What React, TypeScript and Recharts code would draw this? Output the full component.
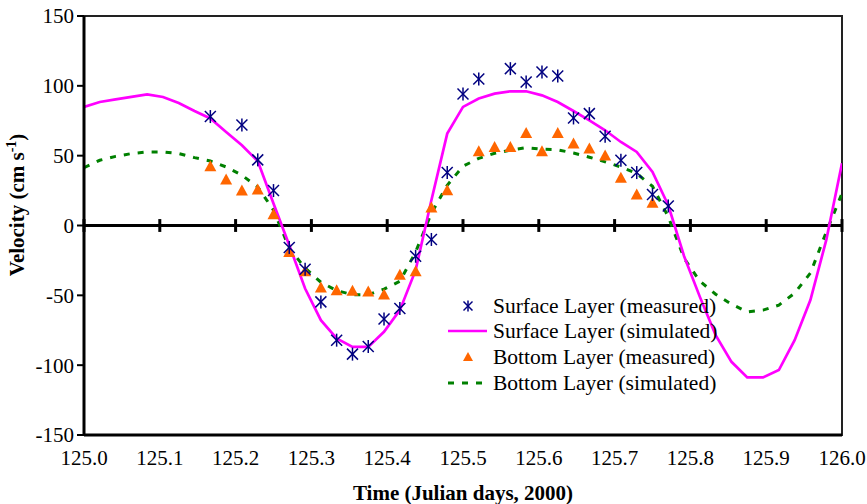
import React from 'react';
import {
  ComposedChart,
  Line,
  Scatter,
  XAxis,
  YAxis,
  ReferenceLine,
  ReferenceArea,
  Legend,
} from 'recharts';

const SERIF = 'Liberation Serif, Times New Roman, Times, serif';

// simulated series: half-hourly output, Julian day 125.0 to 126.0
const simTimes = [
  125.0, 125.0208, 125.0417, 125.0625, 125.0833, 125.1042, 125.125, 125.1458,
  125.1667, 125.1875, 125.2083, 125.2292, 125.25, 125.2708, 125.2917, 125.3125,
  125.3333, 125.3542, 125.375, 125.3958, 125.4167, 125.4375, 125.4583, 125.4792,
  125.5, 125.5208, 125.5417, 125.5625, 125.5833, 125.6042, 125.625, 125.6458,
  125.6667, 125.6875, 125.7083, 125.7292, 125.75, 125.7708, 125.7917, 125.8125,
  125.8333, 125.8542, 125.875, 125.8958, 125.9167, 125.9375, 125.9583, 125.9792,
  126.0,
];
const surfaceSimulated = [
  84.9, 88.4, 90.3, 92.1, 93.9, 92.0, 87.7, 82.0, 76.6, 67.0, 57.5, 46.1, 15.7,
  -14.1, -45.1, -67.8, -80.9, -86.9, -86.9, -76.1, -60.6, -32.0, 18.1, 65.8,
  84.9, 90.9, 94.4, 96.1, 96.1, 93.2, 88.4, 82.0, 75.3, 68.2, 59.8, 52.7, 38.3,
  14.5, -22.0, -51.1, -78.5, -97.6, -108.8, -108.8, -103.5, -82.1, -53.4, -10.5,
  44.6,
];
const bottomSimulated = [
  41.5, 46.7, 49.5, 51.5, 52.7, 52.7, 51.5, 48.6, 46.2, 41.9, 36.0, 27.6, 11.0,
  -16.2, -30.5, -40.6, -46.6, -49.5, -49.5, -45.6, -39.9, -19.0, 8.8, 28.8,
  42.4, 48.1, 51.7, 53.9, 55.7, 54.6, 54.2, 51.9, 48.9, 45.6, 41.9, 37.2, 28.1,
  6.2, -23.4, -39.9, -49.2, -56.3, -61.8, -60.6, -57.0, -48.4, -34.1, -4.8, 23.0,
];

// measured points
const surfaceTimes = [
  125.1667, 125.2083, 125.2292, 125.25, 125.2708, 125.2917, 125.3125, 125.3333,
  125.3542, 125.375, 125.3958, 125.4167, 125.4375, 125.4583, 125.4792, 125.5,
  125.5208, 125.5625, 125.5833, 125.6042, 125.625, 125.6458, 125.6667, 125.6875,
  125.7083, 125.7292, 125.75, 125.7708,
];
const surfaceMeasured = [
  78, 72, 47, 25, -15.7, -31.3, -54.7, -82.1, -92.1, -86.6, -67.0, -59.4, -22.0,
  -10.0, 37.9, 94.2, 104.9, 112.3, 102.7, 109.9, 107.0, 77.0, 80.1, 63.9, 46.7,
  37.9, 22.2, 14.0,
];
const bottomTimes = [
  125.1667, 125.1875, 125.2083, 125.2292, 125.25, 125.2708, 125.2917, 125.3125,
  125.3333, 125.3542, 125.375, 125.3958, 125.4167, 125.4375, 125.4583, 125.4792,
  125.5208, 125.5417, 125.5625, 125.5833, 125.6042, 125.625, 125.6458, 125.6667,
  125.6875, 125.7083, 125.7292, 125.75,
];
const bottomMeasured = [
  42.4, 32.9, 25.0, 25.8, 8.1, -18.9, -32.7, -44.4, -46.3, -46.8, -47.2, -49.4,
  -35.3, -32.7, 12.9, 25.3, 53.2, 56.2, 56.2, 66.3, 53.2, 66.3, 58.7, 55.1, 50.1,
  34.1, 22.2, 16.3,
];

const xTicks = [125.0, 125.1, 125.2, 125.3, 125.4, 125.5, 125.6, 125.7, 125.8, 125.9, 126.0];
const yTicks = [-150, -100, -50, 0, 50, 100, 150];

const legendLabels = [
  'Surface Layer (measured)',
  'Surface Layer (simulated)',
  'Bottom Layer (measured)',
  'Bottom Layer (simulated)',
];

const NAVY = '#000080';
const MAGENTA = '#ff00ff';
const ORANGE = '#ff6600';
const GREEN = '#008000';

const pairs = (ts: number[], vs: number[]) => ts.map((t, i) => ({ t, v: vs[i] }));

const surfSimData = pairs(simTimes, surfaceSimulated);
const botSimData = pairs(simTimes, bottomSimulated);
const surfMeasData = pairs(surfaceTimes, surfaceMeasured);
const botMeasData = pairs(bottomTimes, bottomMeasured);

const Asterisk = ({ cx, cy, r = 5.5 }: any) => (
  <g stroke={NAVY} strokeWidth={1.5}>
    <line x1={cx - r} y1={cy - r} x2={cx + r} y2={cy + r} />
    <line x1={cx - r} y1={cy + r} x2={cx + r} y2={cy - r} />
    <line x1={cx} y1={cy - r - 1} x2={cx} y2={cy + r + 1} />
  </g>
);

const Triangle = ({ cx, cy, s = 6 }: any) => (
  <polygon
    points={`${cx},${cy - s} ${cx - s},${cy + s - 1} ${cx + s},${cy + s - 1}`}
    fill={ORANGE}
  />
);

const YLabel = () => (
  <text
    x={24}
    y={205}
    transform="rotate(-90, 24, 205)"
    textAnchor="middle"
    style={{ fontFamily: SERIF }}
    fontWeight="bold"
    fontSize={21}
    fill="#000"
  >
    Velocity (cm s
    <tspan fontSize={14} dy={-8}>-1</tspan>
    <tspan dy={8}>)</tspan>
  </text>
);

const LegendBox = () => {
  const rows = [14, 39, 65, 91];
  return (
    <svg width={300} height={110} style={{ overflow: 'visible' }}>
      <Asterisk cx={28} cy={rows[0]} r={4.5} />
      <line x1={8} x2={47} y1={rows[1]} y2={rows[1]} stroke={MAGENTA} strokeWidth={2.5} />
      <Triangle cx={28} cy={rows[2]} s={5} />
      <line
        x1={8}
        x2={47}
        y1={rows[3]}
        y2={rows[3]}
        stroke={GREEN}
        strokeWidth={3}
        strokeDasharray="6 8"
      />
      {legendLabels.map((l, i) => (
        <text key={l} x={53} y={rows[i] + 7} style={{ fontFamily: SERIF }} fontSize={21.5} fill="#000">
          {l}
        </text>
      ))}
    </svg>
  );
};

export default function App() {
  return (
    <div
      style={{
        position: 'absolute',
        left: 0,
        top: 0,
        width: 867,
        height: 504,
        background: '#fff',
        fontFamily: SERIF,
      }}
    >
      <ComposedChart width={867} height={504} margin={{ top: 16, right: 25, bottom: 0, left: 0 }}>
        <ReferenceArea
          x1={125}
          x2={126}
          y1={-150}
          y2={150}
          fill="none"
          fillOpacity={0}
          stroke="#222"
          strokeWidth={2}
          ifOverflow="visible"
        />
        <XAxis
          dataKey="t"
          type="number"
          domain={[125, 126]}
          ticks={xTicks}
          interval={0}
          allowDataOverflow
          tickFormatter={(v: number) => v.toFixed(1)}
          tickLine={false}
          tickSize={6}
          tickMargin={9}
          axisLine={{ stroke: '#000', strokeWidth: 3 }}
          tick={{ fill: '#000', fontSize: 21, fontFamily: SERIF }}
          height={69}
          label={{
            value: 'Time (Julian days, 2000)',
            position: 'insideBottom',
            offset: 4,
            fill: '#000',
            fontSize: 21,
            fontWeight: 'bold',
            fontFamily: SERIF,
          }}
        />
        <YAxis
          type="number"
          domain={[-150, 150]}
          ticks={yTicks}
          interval={0}
          allowDataOverflow
          width={84}
          tickSize={7}
          tickMargin={3}
          tickLine={{ stroke: '#000', strokeWidth: 2 }}
          axisLine={{ stroke: '#000', strokeWidth: 3 }}
          tick={{ fill: '#000', fontSize: 21, fontFamily: SERIF }}
          label={<YLabel />}
        />
        <ReferenceLine y={0} stroke="#000" strokeWidth={3} />
        {xTicks.map((x) => (
          <ReferenceLine
            key={x}
            segment={[
              { x, y: -4.6 },
              { x, y: 4.6 },
            ]}
            stroke="#000"
            strokeWidth={3}
          />
        ))}
        <Line
          data={botSimData}
          dataKey="v"
          stroke={GREEN}
          strokeWidth={3}
          strokeDasharray="6 8"
          dot={false}
          type="linear"
          isAnimationActive={false}
        />
        <Line
          data={surfSimData}
          dataKey="v"
          stroke={MAGENTA}
          strokeWidth={2.7}
          dot={false}
          type="linear"
          isAnimationActive={false}
        />
        <Scatter data={botMeasData} dataKey="v" shape={<Triangle />} isAnimationActive={false} />
        <Scatter data={surfMeasData} dataKey="v" shape={<Asterisk />} isAnimationActive={false} />
        <Legend
          layout="vertical"
          align="center"
          verticalAlign="middle"
          content={() => <LegendBox />}
          wrapperStyle={{ position: 'absolute', left: 440, top: 292, width: 300, height: 110 }}
        />
      </ComposedChart>
    </div>
  );
}
